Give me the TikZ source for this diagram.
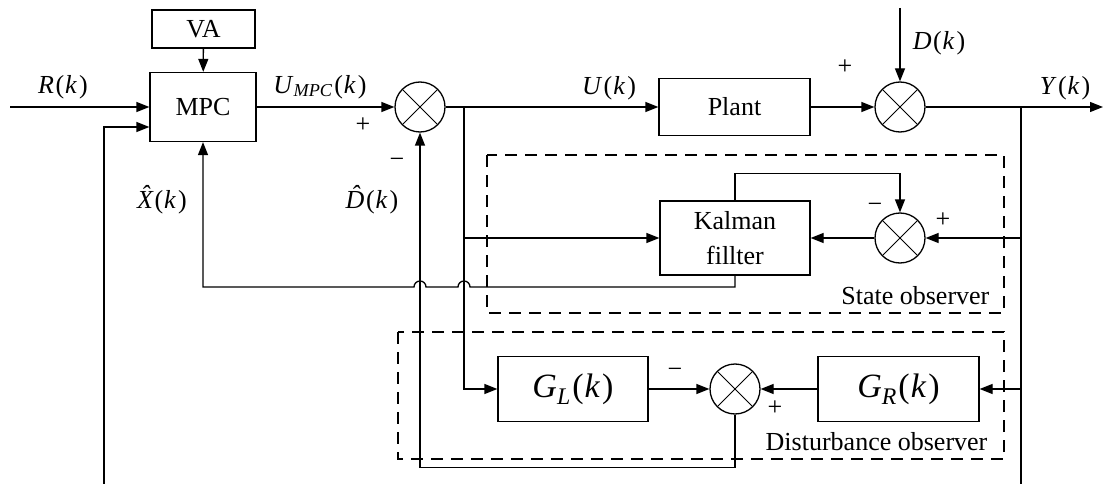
\documentclass[tikz,border=0pt]{standalone}
\usepackage{fontspec}
\setmainfont{Liberation Serif}
\usetikzlibrary{arrows.meta}
\newcommand\argk{\kern1.5pt(\kern1pt\textit{k}\kern2pt)}
\newcommand\hatted[1]{\textit{\setbox0\hbox{#1}\rlap{#1}\hbox to\wd0{\hss\raisebox{0.18em}{\char"02C6}\hss}}}
\begin{document}
\begin{tikzpicture}[x=1pt,y=-1pt,
  line width=1.3pt,
  >={Triangle[length=13pt,width=10pt]},
  blk/.style={draw,rectangle,inner sep=0pt,font=\fontsize{26}{35}\selectfont},
  sumj/.style={draw,circle,minimum size=50pt,inner sep=0pt,
    path picture={\draw[line width=1pt] (path picture bounding box.north east) -- (path picture bounding box.south west)
      (path picture bounding box.north west) -- (path picture bounding box.south east);}},
  lbl/.style={inner sep=0pt,font=\fontsize{26}{30}\selectfont},
  glbl/.style={font=\fontsize{34}{36}\selectfont},
  dbox/.style={draw,line width=1.3pt,dash pattern=on 12pt off 8pt},
  ]
\path[use as bounding box] (0,0) rectangle (1103,484);

% blocks
\node[blk,minimum width=103pt,minimum height=38pt] (va) at (203.5,29) {VA};
\node[blk,minimum width=106pt,minimum height=69pt] (mpc) at (203,107) {MPC};
\node[blk,minimum width=151pt,minimum height=57pt] (plant) at (734.5,107) {Plant};
\node[blk,minimum width=150pt,minimum height=74pt,align=center] (kf) at (735,238) {Kalman\\fillter};
\node[blk,glbl,minimum width=150pt,minimum height=65pt] (gl) at (573,389) {\textit{G}\textsubscript{\textit{L}}\argk};
\node[blk,glbl,minimum width=161pt,minimum height=65pt] (gr) at (898.5,389) {\textit{G}\textsubscript{\textit{R}}\argk};

% summing junctions
\node[sumj] (s1) at (420,107) {};
\node[sumj] (s3) at (900,107) {};
\node[sumj] (s2) at (900,238) {};
\node[sumj] (s4) at (735,389) {};

% dashed observer frames
\draw[dbox] (487,155) rectangle (1004,313);
\draw[dbox] (398,332) rectangle (1004,459);

% free ends and branch points
\coordinate (rin) at (10,107);
\coordinate (fbl) at (104,484);
\coordinate (fbc) at (104,127);
\coordinate (ub) at (464,107);
\coordinate (yj) at (1021,107);
\coordinate (yb) at (1021,484);
\coordinate (yout) at (1103,107);
\coordinate (din) at (900,8);
\coordinate (xh) at (203,287);

% connectors
\draw[->] (va) -- (mpc);
\draw[->] (rin) -- (mpc.west);
\draw[->] (fbl) -- (fbc) -- (mpc.west |- fbc);
\draw[->] (mpc) -- (s1);
\draw[->] (s1) -- (plant);
\draw[->] (plant) -- (s3);
\draw[->] (din) -- (s3);
\draw[->] (s3) -- (yout);
\draw (yj) -- (yb);
\draw[->] (yj |- s2) -- (s2);
\draw[->] (yj |- gr) -- (gr);
\draw[->] (ub) -- (ub |- gl) -- (gl);
\draw[->] (ub |- kf) -- (kf);
\draw[->] (s2) -- (kf);
\draw[->] (kf.north) -- ++(0,-27) -| (s2.north);
\draw[->] (gl) -- (s4);
\draw[->] (gr) -- (s4);
\draw[->] (s4.south) -- ++(0,53) -| (s1.south);
\draw[->] (kf.south) -- (kf.south |- xh) -- (470,287) arc[start angle=0,end angle=180,radius=6pt]
  -- (426,287) arc[start angle=0,end angle=180,radius=6pt] -- (xh) -- (mpc.south);

% labels
\node[lbl] at (63,87) {\textit{R}\argk};
\node[lbl] at (320,87) {\textit{U}\textsubscript{\textit{MPC}}\argk};
\node[lbl] at (363,125) {+};
\node[lbl] at (397,163) {−};
\node[lbl] at (162,200) {\hatted{X}\argk};
\node[lbl] at (372,200) {\hatted{D}\argk};
\node[lbl] at (609,88) {\textit{U}\argk};
\node[lbl] at (845,67) {+};
\node[lbl] at (939,43) {\textit{D}\argk};
\node[lbl] at (1065,88) {\textit{Y}\argk};
\node[lbl] at (875,208) {−};
\node[lbl] at (943,220) {+};
\node[lbl,anchor=east] at (990,296) {State observer};
\node[lbl] at (675,373) {−};
\node[lbl] at (775,408) {+};
\node[lbl,anchor=east] at (988,442) {Disturbance observer};
\end{tikzpicture}
\end{document}
